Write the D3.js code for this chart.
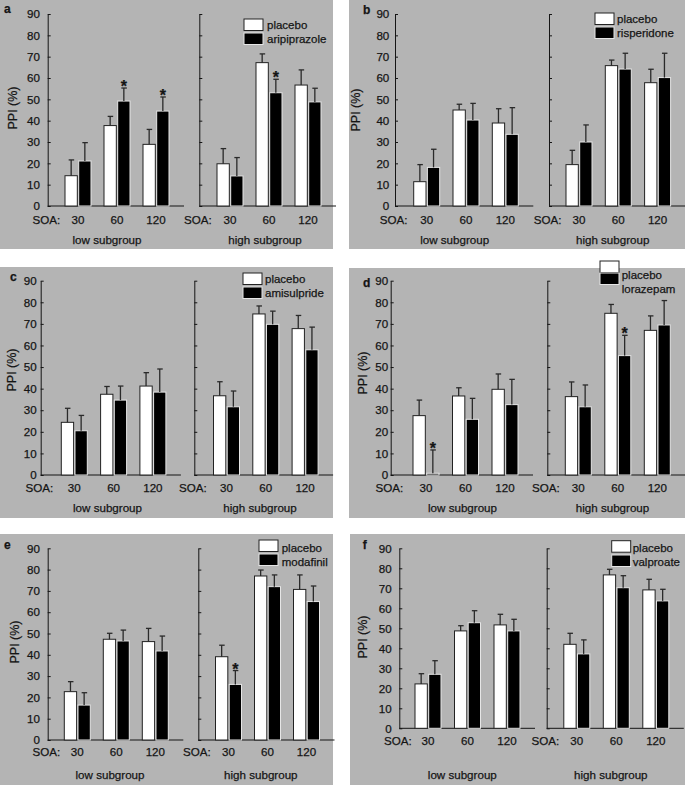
<!DOCTYPE html>
<html>
<head>
<meta charset="utf-8">
<script src="https://cdn.jsdelivr.net/npm/d3@7"></script>
<style>
  body { margin: 0; background: #fff; }
  svg { display: block; font-family: "Liberation Sans", Arial, sans-serif; }
  svg text { stroke: #151515; stroke-width: 0.25px; }
</style>
</head>
<body>
<svg id="chart" width="685" height="785"></svg>
<script>
// categories
const soaLevels = ['30', '60', '120']
const subgroupNames = ['low subgroup', 'high subgroup']
const panelLetters = ['a', 'b', 'c', 'd', 'e', 'f']
const drugNames = ['aripiprazole', 'risperidone', 'amisulpride', 'lorazepam', 'modafinil', 'valproate']
const yTicks = [0, 10, 20, 30, 40, 50, 60, 70, 80, 90]

// mean PPI (%) per panel, SOA 30/60/120
const placeboLow = [[14.2, 37.7, 28.9], [11.4, 45, 38.9], [24.4, 37.4, 41.2], [27.5, 36.6, 39.7], [22.7, 47.3, 46.2], [22.2, 48.7, 51.7]]
const drugLow = [[21.1, 49.2, 44.5], [18.1, 40.3, 33.6], [20.5, 34.7, 38.4], [0.8, 25.8, 32.6], [16.4, 46.5, 41.8], [27, 52.8, 48.7]]
const placeboHigh = [[19.8, 67.2, 56.7], [19.4, 65.8, 57.8], [36.7, 74.6, 67.8], [36.3, 74.9, 67], [39.1, 77, 70.7], [42, 76.7, 69.2]]
const drugHigh = [[14.1, 53.1, 48.8], [30, 64.2, 60.2], [31.6, 69.8, 58], [31.6, 55.3, 69.5], [26.1, 72, 65], [37.2, 70.3, 63.7]]

// upper end of error bars (mean + SEM)
const placeboLowUpper = [[21.6, 42, 35.9], [19.4, 47.7, 45.6], [30.9, 41, 47.4], [34.7, 40.4, 46.8], [27.4, 50.1, 52.4], [27.3, 51.3, 57]]
const drugLowUpper = [[29.7, 55.3, 51.1], [26.6, 48.1, 46.1], [27.6, 41.2, 49.1], [11.6, 35.5, 44.3], [22.2, 51.6, 48.8], [33.8, 58.8, 54.5]]
const placeboHighUpper = [[26.9, 71.3, 63.8], [26.1, 68.4, 64.1], [43.2, 78.3, 73.9], [43.1, 79, 73.7], [44.5, 79.8, 77.5], [47.5, 79.5, 74.5]]
const drugHighUpper = [[22.7, 59.4, 55.2], [38, 71.6, 71.6], [38.9, 75.9, 68.5], [41.7, 64.7, 80.8], [32.6, 77.5, 72.3], [44.2, 76.3, 69.5]]

// significant drug effects: [panel, subgroup, soa index]
const starred = [[0, 0, 1], [0, 0, 2], [0, 1, 1], [3, 0, 0], [3, 1, 1], [4, 1, 0]]

// where each scanned panel sits on the page
const panelLayout = [
  { x: 0, y: 0, w: 333, h: 249, lowAxis: 47.7, highAxis: 199.3, yBottom: 206, yTop: 14, lowOff: 30.3, highOff: 30.7, step: 39, tickPad: 7.7, legX: 244, legY: 19, legGap: 14, textX: 267, textY: 29, letterX: 4, letterY: 13, labX: 13, labY: 108, soaY: 224, subY: 244, subX: [107, 265] },
  { x: 349, y: 0, w: 336, h: 249, lowAxis: 395, highAxis: 549, yBottom: 206, yTop: 14, lowOff: 31.7, highOff: 30, step: 39.3, tickPad: 5.7, legX: 595, legY: 13, legGap: 14, textX: 617, textY: 22.7, letterX: 363, letterY: 14, labX: 356, labY: 110, soaY: 224, subY: 244, subX: [454.7, 612.7] },
  { x: 0, y: 267, w: 333, h: 251, lowAxis: 40.7, highAxis: 194.3, yBottom: 475, yTop: 280.7, lowOff: 33.6, highOff: 32.2, step: 39.3, tickPad: 4, legX: 243, legY: 273, legGap: 14, textX: 265, textY: 282.5, letterX: 10, letterY: 281, labX: 12, labY: 370, soaY: 492, subY: 512, subX: [107.5, 260] },
  { x: 349, y: 268, w: 336, h: 250, lowAxis: 390.7, highAxis: 547.3, yBottom: 475, yTop: 280.7, lowOff: 35.3, highOff: 31, step: 39.5, tickPad: 2.5, legX: 600, legY: 261, legGap: 12, textX: 621.7, textY: 278.5, letterX: 363, letterY: 287, labX: 362.5, labY: 373, soaY: 492, subY: 512, subX: [462.5, 612.5] },
  { x: 0, y: 534, w: 333, h: 251, lowAxis: 47.7, highAxis: 198.3, yBottom: 740, yTop: 548.3, lowOff: 29.6, highOff: 30.2, step: 39, tickPad: 7.7, legX: 259, legY: 540, legGap: 14, textX: 281.7, textY: 552, letterX: 4, letterY: 549, labX: 15, labY: 642, soaY: 756, subY: 779, subX: [110, 260.8] },
  { x: 350, y: 534, w: 335, h: 251, lowAxis: 399.3, highAxis: 546.7, yBottom: 728.3, yTop: 548.3, lowOff: 28.7, highOff: 30.1, step: 39.5, tickPad: 7.7, legX: 611.7, legY: 540.7, legGap: 14.3, textX: 632.7, textY: 552.3, letterX: 362.7, letterY: 549, labX: 362.5, labY: 637, soaY: 745, subY: 779, subX: [462.3, 610.8] }
]

const svg = d3.select('#chart')
const ink = '#151515'
const fontSize = 11.6

panelLayout.forEach((L, p) => {
  const g = svg.append('g')

  g.append('rect')
    .attr('x', L.x).attr('y', L.y)
    .attr('width', L.w).attr('height', L.h)
    .attr('fill', '#b4b4b4')

  const yScale = d3.scaleLinear().domain([0, 90]).range([L.yBottom, L.yTop])

  const groups = [
    { axis: L.lowAxis, off: L.lowOff, placebo: placeboLow[p], drug: drugLow[p], pUp: placeboLowUpper[p], dUp: drugLowUpper[p] },
    { axis: L.highAxis, off: L.highOff, placebo: placeboHigh[p], drug: drugHigh[p], pUp: placeboHighUpper[p], dUp: drugHighUpper[p] }
  ]

  groups.forEach((sg, s) => {
    const xScale = d3.scalePoint()
      .domain(soaLevels)
      .range([sg.axis + sg.off, sg.axis + sg.off + 2 * L.step])
    const inner = d3.scaleBand()
      .domain(['placebo', 'drug'])
      .range([-13, 13])
      .paddingInner(0.1)

    const rows = soaLevels.flatMap((soa, i) => [
      { soa, i, kind: 'placebo', v: sg.placebo[i], up: sg.pUp[i] },
      { soa, i, kind: 'drug', v: sg.drug[i], up: sg.dUp[i] }
    ])

    // baseline
    g.append('line')
      .attr('x1', sg.axis).attr('x2', xScale('120') + 28)
      .attr('y1', yScale(0)).attr('y2', yScale(0))
      .attr('stroke', ink).attr('stroke-width', 1)

    // y axis, ticks pointing inwards
    const yAxis = d3.axisLeft(yScale)
      .tickValues(yTicks)
      .tickSizeInner(-3)
      .tickSizeOuter(0)
      .tickPadding(L.tickPad)
      .tickFormat(s === 0 ? d3.format('d') : () => '')
    const ax = g.append('g')
      .attr('transform', `translate(${sg.axis},0)`)
      .call(yAxis)
    ax.selectAll('path, line').attr('stroke', ink)
    ax.selectAll('text')
      .attr('fill', ink)
      .style('font-size', fontSize + 'px')
      .style('font-family', '"Liberation Sans", Arial, sans-serif')

    // bars
    g.selectAll(null)
      .data(rows)
      .join('rect')
      .attr('x', d => xScale(d.soa) + inner(d.kind))
      .attr('y', d => yScale(d.v))
      .attr('width', inner.bandwidth())
      .attr('height', d => yScale(0) - yScale(d.v))
      .attr('fill', d => d.kind === 'placebo' ? '#fff' : '#000')
      .attr('stroke', d => d.kind === 'placebo' ? '#222' : '#e6e6e6')
      .attr('stroke-width', 1)

    // error bars (upper only)
    const eb = g.selectAll(null)
      .data(rows)
      .join('g')
      .attr('transform', d => `translate(${xScale(d.soa) + inner(d.kind) + inner.bandwidth() / 2},0)`)
    eb.append('line')
      .attr('y1', d => yScale(d.v)).attr('y2', d => yScale(d.up))
      .attr('stroke', '#2a2a2a').attr('stroke-width', 1.3)
    eb.append('line')
      .attr('x1', -2.5).attr('x2', 3)
      .attr('y1', d => yScale(d.up)).attr('y2', d => yScale(d.up))
      .attr('stroke', '#2a2a2a').attr('stroke-width', 1.3)

    // significance stars
    starred.filter(st => st[0] === p && st[1] === s).forEach(st => {
      const soa = soaLevels[st[2]]
      g.append('text')
        .attr('x', xScale(soa) + inner('drug') + inner.bandwidth() / 2)
        .attr('y', yScale(sg.dUp[st[2]]) + 4)
        .attr('text-anchor', 'middle')
        .attr('font-size', 16)
        .attr('font-weight', 'bold')
        .attr('fill', ink)
        .text('*')
    })

    // x labels
    g.append('text')
      .attr('x', sg.axis + 12.5).attr('y', L.soaY)
      .attr('text-anchor', 'end')
      .attr('font-size', fontSize).attr('fill', ink)
      .text('SOA:')
    g.selectAll(null)
      .data(soaLevels)
      .join('text')
      .attr('x', d => xScale(d)).attr('y', L.soaY)
      .attr('text-anchor', 'middle')
      .attr('font-size', fontSize).attr('fill', ink)
      .text(d => d)

    g.append('text')
      .attr('x', L.subX[s]).attr('y', L.subY)
      .attr('text-anchor', 'middle')
      .attr('font-size', fontSize).attr('fill', ink)
      .text(subgroupNames[s])
  })

  // y label
  g.append('text')
    .attr('transform', `translate(${L.labX + 4},${L.labY}) rotate(-90)`)
    .attr('text-anchor', 'middle')
    .attr('font-size', 12.5).attr('fill', ink)
    .text('PPI (%)')

  // panel letter
  g.append('text')
    .attr('x', L.letterX).attr('y', L.letterY)
    .attr('font-size', 12).attr('font-weight', 'bold').attr('fill', ink)
    .text(panelLetters[p])

  // legend
  const legend = [
    { name: 'placebo', fill: '#fff', stroke: '#222' },
    { name: drugNames[p], fill: '#000', stroke: '#e6e6e6' }
  ]
  legend.forEach((d, i) => {
    g.append('rect')
      .attr('x', L.legX).attr('y', L.legY + i * L.legGap)
      .attr('width', 19).attr('height', 11.5)
      .attr('fill', d.fill).attr('stroke', d.stroke).attr('stroke-width', 1)
    g.append('text')
      .attr('x', L.textX).attr('y', L.textY + i * 14)
      .attr('font-size', 11.5).attr('fill', ink)
      .text(d.name)
  })
})
</script>
</body>
</html>
